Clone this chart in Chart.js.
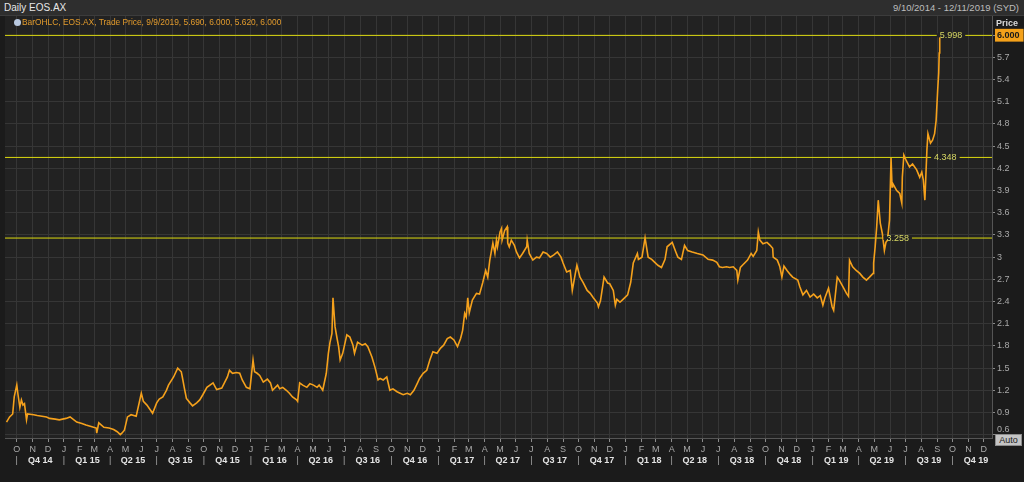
<!DOCTYPE html>
<html>
<head>
<meta charset="utf-8">
<script src="https://cdn.jsdelivr.net/npm/chart.js@4.4.0/dist/chart.umd.min.js"></script>
<style>
  html, body { margin: 0; padding: 0; background: #1b1b1b; }
  #wrap { position: relative; width: 1024px; height: 482px; overflow: hidden; font-family: 'Liberation Sans', Arial, sans-serif; }
  #head { position: absolute; left: 0; top: 0; width: 1024px; height: 15px; background: #2e2e2e; border-bottom: 1px solid #3c3c3c; }
  #title { position: absolute; left: 4px; top: 2px; font-size: 10px; color: #e6e6e6; }
  #range { position: absolute; right: 5px; top: 2px; font-size: 9.5px; color: #bdbdbd; }
  #legend { position: absolute; left: 14px; top: 17px; font-size: 8.4px; color: #e39b2c; white-space: nowrap; }
  #legend i { display: inline-block; width: 7px; height: 7px; border-radius: 50%; background: #b9c9e0; margin-right: 1px; vertical-align: -1px; }
  #price { position: absolute; left: 996px; top: 18px; font-size: 9px; color: #d8d8d8; font-weight: bold; }
  #auto { position: absolute; left: 995px; top: 434px; width: 25px; height: 10px; background: #c4c4c4; border: 1px solid #8c8c8c; color: #222; font-size: 9px; line-height: 10px; text-align: center; }
  canvas { position: absolute; left: 0; top: 0; }
</style>
</head>
<body>
<div id="wrap">
  <canvas id="eos" width="1024" height="482"></canvas>
  <div id="head"><span id="title">Daily EOS.AX</span><span id="range">9/10/2014 - 12/11/2019 (SYD)</span></div>
  <div id="legend"><i></i>BarOHLC, EOS.AX, Trade Price, 9/9/2019, 5.690, 6.000, 5.620, 6.000</div>
  <div id="price">Price</div>
  <div id="auto">Auto</div>
</div>
<script>
// daily close (one line per month)
const priceDates = [
  '2014-09-11','2014-09-17','2014-09-23','2014-09-26',
  '2014-10-01','2014-10-03','2014-10-07','2014-10-10','2014-10-13','2014-10-16','2014-10-20','2014-10-22',
  '2014-11-03','2014-11-10','2014-11-19','2014-11-28',
  '2014-12-04','2014-12-15','2014-12-23',
  '2015-01-05','2015-01-13','2015-01-26',
  '2015-02-05','2015-02-13','2015-02-23',
  '2015-03-05','2015-03-06','2015-03-10','2015-03-20','2015-03-30',
  '2015-04-08','2015-04-15','2015-04-21','2015-04-24','2015-04-29',
  '2015-05-05','2015-05-12','2015-05-22',
  '2015-06-01','2015-06-05','2015-06-12','2015-06-23',
  '2015-07-01','2015-07-06','2015-07-13','2015-07-20','2015-07-24',
  '2015-08-03','2015-08-11','2015-08-18','2015-08-20','2015-08-24','2015-08-28',
  '2015-09-04','2015-09-09','2015-09-17','2015-09-23','2015-09-29',
  '2015-10-07','2015-10-19','2015-10-26',
  '2015-11-05','2015-11-16','2015-11-20','2015-11-26',
  '2015-12-04','2015-12-10','2015-12-15','2015-12-23','2015-12-30',
  '2016-01-05','2016-01-08','2016-01-13','2016-01-18','2016-01-25',
  '2016-02-02','2016-02-08','2016-02-12','2016-02-22','2016-02-26',
  '2016-03-03','2016-03-10','2016-03-16','2016-03-22','2016-03-30',
  '2016-04-01','2016-04-05','2016-04-11','2016-04-19','2016-04-25',
  '2016-05-02','2016-05-09','2016-05-13','2016-05-20','2016-05-27','2016-05-31',
  '2016-06-03','2016-06-07','2016-06-09','2016-06-13','2016-06-17','2016-06-20','2016-06-23','2016-06-28',
  '2016-07-06','2016-07-12','2016-07-18','2016-07-21','2016-07-27',
  '2016-08-05','2016-08-11','2016-08-16','2016-08-24','2016-08-30',
  '2016-09-05','2016-09-09','2016-09-15','2016-09-22','2016-09-28',
  '2016-10-04','2016-10-12','2016-10-18','2016-10-24',
  '2016-11-01','2016-11-07','2016-11-14','2016-11-21','2016-11-25',
  '2016-12-02','2016-12-09','2016-12-15','2016-12-21','2016-12-29',
  '2017-01-05','2017-01-11','2017-01-18','2017-01-24','2017-01-31',
  '2017-02-07','2017-02-13','2017-02-17','2017-02-21','2017-02-24','2017-02-27',
  '2017-03-02','2017-03-08','2017-03-16','2017-03-22','2017-03-28',
  '2017-04-03','2017-04-07','2017-04-11','2017-04-17','2017-04-21','2017-04-24','2017-04-26',
  '2017-05-01','2017-05-04','2017-05-05','2017-05-10','2017-05-15','2017-05-16','2017-05-19','2017-05-23','2017-05-29',
  '2017-06-02','2017-06-08','2017-06-14','2017-06-22','2017-06-23','2017-06-27',
  '2017-07-04','2017-07-11','2017-07-17','2017-07-24','2017-07-31',
  '2017-08-07','2017-08-14','2017-08-21','2017-08-28',
  '2017-09-01','2017-09-08','2017-09-15','2017-09-19','2017-09-25','2017-09-28',
  '2017-10-04','2017-10-10','2017-10-18','2017-10-24','2017-10-30',
  '2017-11-07','2017-11-09','2017-11-13','2017-11-20','2017-11-27',
  '2017-12-01','2017-12-08','2017-12-12','2017-12-15','2017-12-21','2017-12-27',
  '2018-01-05','2018-01-11','2018-01-16','2018-01-24','2018-01-26',
  '2018-02-02','2018-02-08','2018-02-14','2018-02-21','2018-02-27',
  '2018-03-05','2018-03-12','2018-03-19','2018-03-23',
  '2018-04-02','2018-04-09','2018-04-13','2018-04-20','2018-04-26',
  '2018-05-02','2018-05-11','2018-05-21',
  '2018-06-01','2018-06-11','2018-06-20','2018-06-28',
  '2018-07-03','2018-07-09','2018-07-17','2018-07-23','2018-07-30',
  '2018-08-06','2018-08-08','2018-08-13','2018-08-17','2018-08-27',
  '2018-09-03','2018-09-07','2018-09-14','2018-09-17','2018-09-20','2018-09-26',
  '2018-10-04','2018-10-10','2018-10-15','2018-10-16','2018-10-24','2018-10-29',
  '2018-11-02','2018-11-06','2018-11-12','2018-11-19','2018-11-23',
  '2018-12-03','2018-12-07','2018-12-13','2018-12-20','2018-12-27',
  '2019-01-03','2019-01-10','2019-01-16','2019-01-21','2019-01-25',
  '2019-02-01','2019-02-08','2019-02-11','2019-02-14','2019-02-18','2019-02-22',
  '2019-03-01','2019-03-08','2019-03-12','2019-03-14','2019-03-20','2019-03-27',
  '2019-04-03','2019-04-09','2019-04-16','2019-04-22','2019-04-29','2019-04-30',
  '2019-05-03','2019-05-06','2019-05-09','2019-05-13','2019-05-17','2019-05-21','2019-05-24','2019-05-27','2019-05-31',
  '2019-06-03','2019-06-05','2019-06-06','2019-06-14','2019-06-20','2019-06-24','2019-06-25','2019-06-28',
  '2019-07-03','2019-07-09','2019-07-15','2019-07-23','2019-07-29',
  '2019-08-02','2019-08-05','2019-08-08','2019-08-12','2019-08-14','2019-08-19','2019-08-23','2019-08-27','2019-08-30',
  '2019-09-02','2019-09-04','2019-09-05','2019-09-06','2019-09-09'
];
const priceCloses = [
  0.77, 0.84, 0.88, 1.11,
  1.27, 1.16, 0.97, 1.07, 1.00, 1.02, 0.80, 0.88,
  0.87, 0.86, 0.85, 0.84,
  0.82, 0.81, 0.80,
  0.82, 0.84, 0.77,
  0.75, 0.73, 0.71,
  0.69, 0.62, 0.76, 0.70, 0.69,
  0.67, 0.64, 0.60, 0.62, 0.66,
  0.84, 0.87, 0.85,
  1.16, 1.05, 1.00, 0.89,
  1.03, 1.08, 1.11, 1.20, 1.27,
  1.38, 1.50, 1.45, 1.38, 1.23, 1.09,
  1.03, 0.99, 1.03, 1.07, 1.14,
  1.24, 1.30, 1.21,
  1.23, 1.38, 1.47, 1.43,
  1.44, 1.43, 1.34, 1.24, 1.22,
  1.61, 1.45, 1.43, 1.40, 1.31,
  1.35, 1.30, 1.20, 1.27, 1.22,
  1.24, 1.20, 1.16, 1.11, 1.07,
  1.05, 1.30, 1.27, 1.24, 1.29,
  1.27, 1.24, 1.27, 1.20, 1.43, 1.70,
  1.84, 1.97, 2.45, 2.06, 1.90, 1.79, 1.61, 1.70,
  1.95, 1.92, 1.81, 1.70, 1.85,
  1.81, 1.83, 1.79, 1.65, 1.51,
  1.34, 1.36, 1.34, 1.38, 1.20,
  1.22, 1.18, 1.16, 1.14,
  1.16, 1.14, 1.20, 1.30, 1.36,
  1.43, 1.47, 1.61, 1.72, 1.70,
  1.77, 1.81, 1.90, 1.92, 1.88,
  1.79, 1.90, 2.01, 2.24, 2.19, 2.45,
  2.25, 2.42, 2.51, 2.50, 2.65,
  2.82, 2.73, 2.96, 3.19, 3.05, 3.23, 3.14,
  3.34, 3.39, 3.23, 3.36, 3.41, 3.19, 3.14, 3.23, 3.16,
  3.07, 2.99, 3.05, 3.14, 3.23, 3.05,
  2.96, 3.00, 2.99, 3.07, 3.05,
  3.00, 3.03, 3.07, 3.00,
  2.92, 2.80, 2.82, 2.55, 2.78, 2.89,
  2.73, 2.66, 2.55, 2.51, 2.45,
  2.38, 2.33, 2.41, 2.73, 2.65,
  2.64, 2.55, 2.35, 2.43, 2.39, 2.43,
  2.49, 2.66, 2.92, 3.05, 2.97,
  3.00, 3.26, 3.00, 2.97, 2.93,
  2.89, 2.86, 2.97, 3.14,
  3.20, 3.07, 3.00, 2.97, 3.16,
  3.09, 3.07, 3.05,
  3.03, 2.97, 2.96, 2.93,
  2.87, 2.86, 2.87, 2.86, 2.87,
  2.82, 2.69, 2.86, 2.89, 2.96,
  3.05, 3.01, 3.09, 3.34, 3.23, 3.18,
  3.20, 3.16, 3.12, 3.00, 2.96, 2.87,
  2.73, 2.88, 2.82, 2.76, 2.73,
  2.69, 2.60, 2.49, 2.55, 2.46,
  2.50, 2.45, 2.48, 2.35, 2.45,
  2.58, 2.33, 2.28, 2.47, 2.73, 2.69,
  2.60, 2.51, 2.47, 2.96, 2.87, 2.82,
  2.78, 2.73, 2.69, 2.73, 2.78, 2.92,
  3.14, 3.41, 3.77, 3.46, 3.32, 3.09, 3.20, 3.23, 3.50,
  4.34, 3.95, 4.00, 3.90, 3.86, 3.73, 4.08, 4.38,
  4.30, 4.22, 4.26, 4.18, 4.08,
  4.15, 4.04, 3.77, 4.45, 4.67, 4.54, 4.58, 4.67, 4.85,
  5.26, 5.49, 5.76, 5.97, 6.00
];

// horizontal levels and where their value tags sit
const levelValues = [5.998, 4.348, 3.258];
const levelTagDates = ['2019-09-28', '2019-09-17', '2019-06-16'];

const lastPrice = 6.0;
const priceTicks = [0.6, 0.9, 1.2, 1.5, 1.8, 2.1, 2.4, 2.7, 3.0, 3.3, 3.6, 3.9, 4.2, 4.5, 4.8, 5.1, 5.4, 5.7, 6.0];
const monthLetters = ['J', 'F', 'M', 'A', 'M', 'J', 'J', 'A', 'S', 'O', 'N', 'D'];

const xMin = Date.UTC(2014, 8, 8);
const xMax = Date.UTC(2019, 11, 17);

// month ticks, plus one extra tick in the middle of each quarter for the Qn yy row
const xTickLabels = new Map();
const quarterTicks = new Set();
for (let y = 2014; y <= 2019; y++) {
  for (let m = 0; m < 12; m++) {
    const t = Date.UTC(y, m, 1);
    if (t < xMin || t > xMax) continue;
    xTickLabels.set(t, [monthLetters[m], m % 3 === 0 ? '|' : '']);
    if (m % 3 === 1) {
      const mid = Date.UTC(y, m, 16);
      xTickLabels.set(mid, ['', 'Q' + ((m - 1) / 3 + 1) + ' ' + String(y).slice(2)]);
      quarterTicks.add(mid);
    }
  }
}
const xTickValues = [...xTickLabels.keys()].sort((a, b) => a - b);

const plotBg = '#222222';
const gridColor = '#363636';
const levelColor = '#dcda10';

const isQuarter = (c) => !!(c.tick && quarterTicks.has(c.tick.value));
const isLast = (c) => !!(c.tick && c.tick.value === lastPrice);

const levelPlugin = {
  id: 'levels',
  beforeDraw(chart) {
    const { ctx, chartArea: a } = chart;
    ctx.save();
    ctx.fillStyle = plotBg;
    ctx.fillRect(a.left, a.top, a.right - a.left, a.bottom - a.top);
    ctx.restore();
  },
  afterDatasetsDraw(chart) {
    const { ctx, scales } = chart;
    ctx.save();
    ctx.font = '9px "Liberation Sans", Arial, sans-serif';
    ctx.textAlign = 'center';
    ctx.textBaseline = 'middle';
    levelValues.forEach((v, i) => {
      const x = scales.x.getPixelForValue(Date.parse(levelTagDates[i]));
      const y = scales.y.getPixelForValue(v);
      const txt = v.toFixed(3);
      const w = ctx.measureText(txt).width + 6;
      ctx.fillStyle = plotBg;
      ctx.fillRect(x - w / 2, y - 2, w, 4);
      ctx.fillStyle = '#d8d864';
      ctx.fillText(txt, x, y + 0.5);
    });
    ctx.restore();
  }
};

const levelSets = levelValues.map(v => ({
  data: [{ x: xMin, y: v }, { x: xMax, y: v }],
  borderColor: levelColor,
  borderWidth: 1,
  pointRadius: 0,
  order: 2
}));

new Chart(document.getElementById('eos'), {
  type: 'line',
  data: {
    datasets: [
      {
        label: 'EOS.AX',
        data: priceDates.map((d, i) => ({ x: Date.parse(d), y: priceCloses[i] })),
        borderColor: '#f5a11c',
        borderWidth: 1.6,
        pointRadius: 0,
        tension: 0,
        order: 1
      },
      ...levelSets
    ]
  },
  options: {
    responsive: false,
    animation: false,
    layout: { padding: { left: 5, top: 16, right: 0, bottom: 0 } },
    plugins: { legend: { display: false }, tooltip: { enabled: false } },
    scales: {
      x: {
        type: 'linear',
        min: xMin,
        max: xMax,
        afterBuildTicks: (s) => { s.ticks = xTickValues.map(v => ({ value: v })); },
        afterFit: (s) => { s.height = 44; },
        grid: {
          color: (c) => isQuarter(c) ? 'rgba(0,0,0,0)' : gridColor,
          tickColor: (c) => isQuarter(c) ? 'rgba(0,0,0,0)' : '#8a8a8a',
          tickLength: 4,
          lineWidth: 1
        },
        border: { color: '#555555' },
        ticks: {
          autoSkip: false,
          maxRotation: 0,
          padding: 2,
          color: (c) => isQuarter(c) ? '#e4e4e4' : '#a9a9a9',
          font: (c) => ({
            family: '"Liberation Sans", Arial, sans-serif',
            size: 9,
            weight: isQuarter(c) ? 'bold' : 'normal',
            lineHeight: 1.25
          }),
          callback: (v) => xTickLabels.get(v) || ''
        }
      },
      y: {
        position: 'right',
        min: 0.555,
        max: 6.26,
        afterBuildTicks: (s) => { s.ticks = priceTicks.map(v => ({ value: v })); },
        afterFit: (s) => { s.width = 32; },
        grid: { color: gridColor, tickColor: '#8a8a8a', tickLength: 3 },
        border: { color: '#555555' },
        ticks: {
          autoSkip: false,
          padding: 2,
          color: (c) => isLast(c) ? '#1a1a1a' : '#a9a9a9',
          font: (c) => ({
            family: '"Liberation Sans", Arial, sans-serif',
            size: 9,
            weight: isLast(c) ? 'bold' : 'normal'
          }),
          showLabelBackdrop: (c) => isLast(c),
          backdropColor: '#f4a11a',
          backdropPadding: { left: 2, right: 4, top: 1, bottom: 1 },
          // the lowest label sits a half line up, clear of the Auto button
          callback: (v) => v === lastPrice ? lastPrice.toFixed(3)
            : (v === priceTicks[0] ? [String(v), ''] : String(+v.toFixed(1)))
        }
      }
    }
  },
  plugins: [levelPlugin]
});
</script>
</body>
</html>
